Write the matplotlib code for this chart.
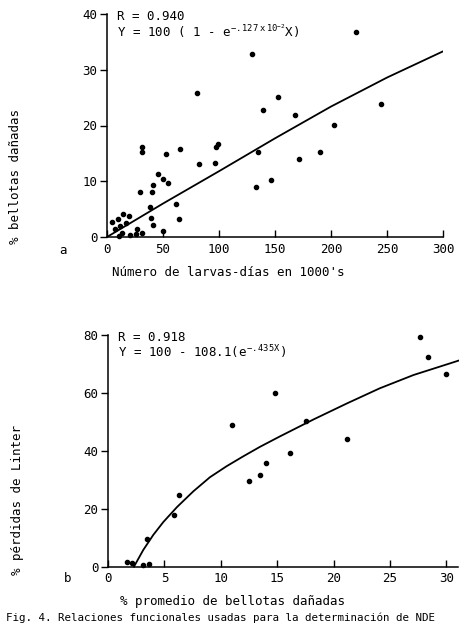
import matplotlib.pyplot as plt
import matplotlib as mpl

mpl.rcParams['font.family'] = ['DejaVu Sans Mono']
mpl.rcParams['mathtext.fontset'] = 'custom'
mpl.rcParams['mathtext.rm'] = 'DejaVu Sans Mono'
mpl.rcParams['mathtext.it'] = 'DejaVu Sans Mono'

# panel a: larvae-days (1000's) vs % damaged bolls
larvas_x = [4.7, 10.1, 14.0, 19.9, 17.0, 7.1, 11.6, 13.1, 11.0, 20.5, 25.9, 27.0, 31.0,
            38.4, 39.0, 40.8, 50.3, 64.3, 61.9, 29.5, 39.9, 41.3, 45.3, 49.6, 54.7,
            82.4, 96.7, 31.5, 31.5, 65.1, 52.6, 96.9, 98.7, 135.0, 171.0, 190.0,
            146.3, 132.9, 202.8, 139.5, 167.7, 153.0, 80.6, 245.0, 222.7, 129.6]
dano_y = [2.7, 3.2, 4.1, 3.8, 2.6, 1.4, 2.0, 0.7, 0.1, 0.4, 0.5, 1.4, 0.8,
          5.3, 3.4, 2.1, 1.1, 3.2, 5.9, 8.1, 8.1, 9.3, 11.3, 10.4, 9.7,
          13.1, 13.3, 16.2, 15.2, 15.8, 14.9, 16.2, 16.7, 15.3, 14.0, 15.3,
          10.3, 9.0, 20.1, 22.7, 21.9, 25.2, 25.8, 23.8, 36.8, 32.8]
ajuste_a_x = [0, 50, 100, 150, 200, 250, 300]
ajuste_a_y = [0, 6.0, 11.8, 17.7, 23.4, 28.6, 33.3]

# panel b: % damaged bolls vs % lint loss
bellotas_x = [1.66, 2.15, 3.08, 3.63, 3.46, 5.85, 6.32, 12.5, 13.5, 14.0, 16.1,
              11.0, 14.8, 17.6, 21.2, 27.7, 28.4, 30.0]
perdida_y = [1.7, 1.4, 0.6, 0.9, 9.6, 17.7, 24.9, 29.7, 31.6, 35.9, 39.4,
             48.9, 60.1, 50.3, 44.1, 79.4, 72.3, 66.5]
ajuste_b_x = [2.30, 3.13, 4.02, 4.90, 6.12, 7.56, 9.04, 10.52, 11.99, 13.48, 15.25,
              18.2, 21.2, 24.1, 27.1, 30.0, 31.2]
ajuste_b_y = [0, 5.8, 11.0, 15.4, 20.6, 26.0, 30.9, 34.7, 38.1, 41.4, 45.0,
              50.8, 56.4, 61.6, 66.2, 69.8, 71.3]

W, H = 460, 625
fig = plt.figure(figsize=(W / 100, H / 100), dpi=100)


def box(l, t, r, b):
    return [l / W, 1 - b / H, (r - l) / W, (b - t) / H]


def style(ax):
    for s in ['top', 'right']:
        ax.spines[s].set_visible(False)
    for s in ['left', 'bottom']:
        ax.spines[s].set_linewidth(1.1)
    ax.tick_params(axis='x', direction='in', length=5, width=1, labelsize=9, pad=4)
    ax.tick_params(axis='y', direction='out', length=5, width=1, labelsize=9, pad=2)


# --- panel a ---
ax1 = fig.add_axes(box(107, 14, 443, 237))
ax1.scatter(larvas_x, dano_y, s=9, color='black', clip_on=False, zorder=3)
ax1.plot(ajuste_a_x, ajuste_a_y, color='black', lw=1.3)
ax1.set_xlim(0, 300)
ax1.set_ylim(0, 40)
ax1.set_xticks([0, 50, 100, 150, 200, 250, 300])
ax1.set_yticks([0, 10, 20, 30, 40])
style(ax1)
ax1.text(0.03, 0.99, 'R = 0.940', transform=ax1.transAxes, fontsize=9, va='center')
ax1.text(0.03, 0.925, r'Y = 100 ( 1 - e$^{-.127\ \mathrm{x}\ 10^{-2}}$X)',
         transform=ax1.transAxes, fontsize=9, va='center')
fig.text(228 / W, 1 - 272 / H, "Número de larvas-días en 1000's", fontsize=9,
         ha='center', va='center')
fig.text(16 / W, 1 - 177 / H, '% bellotas dañadas', fontsize=9, rotation=90,
         ha='center', va='center')
fig.text(63 / W, 1 - 250 / H, 'a', fontsize=9, ha='center', va='center')

# --- panel b ---
ax2 = fig.add_axes(box(108, 335, 457.6, 566.7))
ax2.scatter(bellotas_x, perdida_y, s=9, color='black', clip_on=False, zorder=3)
ax2.plot(ajuste_b_x, ajuste_b_y, color='black', lw=1.3, clip_on=False)
ax2.set_xlim(0, 31)
ax2.set_ylim(0, 80)
ax2.set_xticks([0, 5, 10, 15, 20, 25, 30])
ax2.set_yticks([0, 20, 40, 60, 80])
style(ax2)
ax2.text(0.03, 0.99, 'R = 0.918', transform=ax2.transAxes, fontsize=9, va='center')
ax2.text(0.03, 0.925, r'Y = 100 - 108.1(e$^{-.435\mathrm{X}}$)',
         transform=ax2.transAxes, fontsize=9, va='center')
fig.text(233 / W, 1 - 602 / H, '% promedio de bellotas dañadas', fontsize=9,
         ha='center', va='center')
fig.text(18 / W, 1 - 500 / H, '% pérdidas de Linter', fontsize=9, rotation=90,
         ha='center', va='center')
fig.text(68 / W, 1 - 578 / H, 'b', fontsize=9, ha='center', va='center')

# caption line at the bottom of the scan
fig.text(6 / W, 1 - 623 / H,
         'Fig. 4. Relaciones funcionales usadas para la determinación de NDE',
         fontsize=7.8, ha='left', va='bottom')

fig.savefig('out.png', dpi=100)
